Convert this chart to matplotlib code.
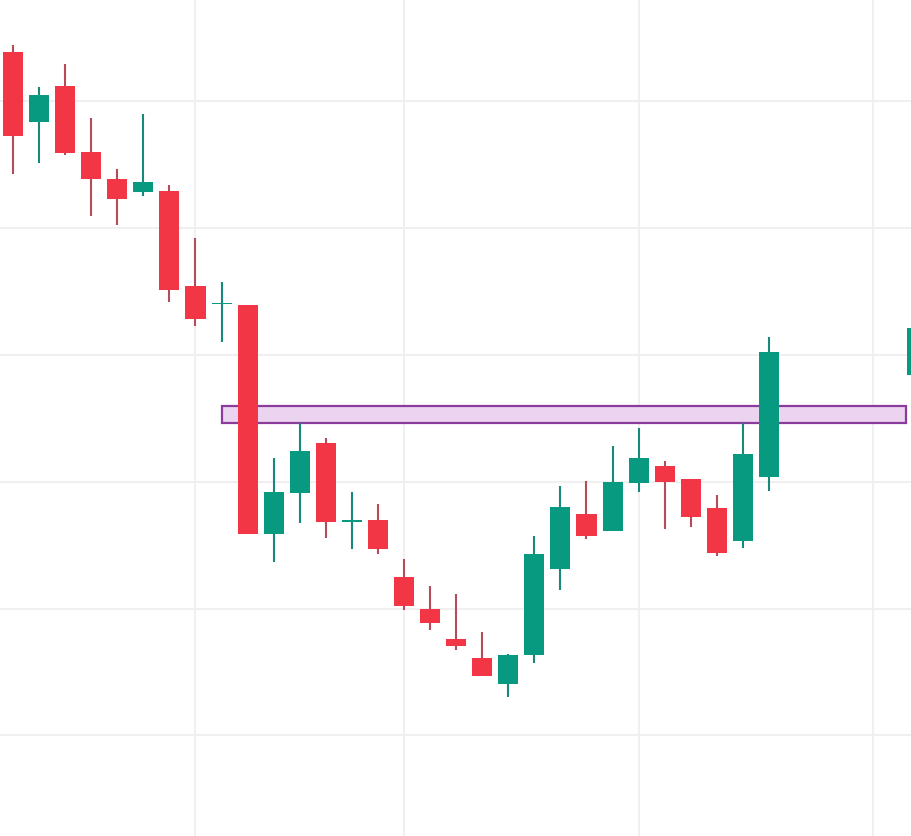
import numpy as np
import matplotlib
matplotlib.use("Agg")
import matplotlib.pyplot as plt
from matplotlib.patches import Rectangle

# candle positions (bar index) and OHLC prices
x = list(range(30)) + [34.7]
opens = [105.388, 104.837, 105.118, 104.598, 104.385, 104.285, 104.291, 103.542,
         103.404, 103.392, 101.590, 101.913, 102.307, 101.682, 101.698, 101.249,
         100.997, 100.760, 100.613, 100.408, 100.637, 101.314, 101.746, 101.614,
         101.992, 102.124, 102.021, 101.793, 101.535, 102.039, 102.837]
highs = [105.441, 105.108, 105.292, 104.866, 104.462, 104.898, 104.336, 103.920,
         103.574, 103.392, 102.187, 102.460, 102.344, 101.919, 101.824, 101.391,
         101.178, 101.115, 100.816, 100.642, 101.575, 101.966, 102.008, 102.281,
         102.423, 102.163, 102.021, 101.895, 102.465, 103.140, 103.209]
lows = [104.427, 104.509, 104.572, 104.096, 104.025, 104.254, 103.418, 103.229,
        103.099, 101.590, 101.370, 101.677, 101.559, 101.472, 101.428, 100.991,
        100.834, 100.676, 100.471, 100.306, 100.574, 101.149, 101.551, 101.614,
        101.921, 101.630, 101.645, 101.417, 101.478, 101.929, 102.837]
closes = [104.727, 105.047, 104.593, 104.388, 104.230, 104.362, 103.513, 103.284,
          103.412, 101.590, 101.919, 102.242, 101.685, 101.698, 101.472, 101.023,
          100.889, 100.708, 100.471, 100.634, 101.433, 101.801, 101.575, 101.998,
          102.187, 102.000, 101.724, 101.441, 102.218, 103.022, 103.209]

# resistance zone
zone_start, zone_end = 8, 34.25
zone_low, zone_high = 102.463, 102.599

# grid positions
time_grid = [7, 15, 24, 33]
price_grid = [100, 101, 102, 103, 104, 105]

up_color = "#089981"
down_color = "#f23645"
up_wick = "#17897a"
down_wick = "#b34c58"

opens = np.array(opens)
closes = np.array(closes)
up = closes >= opens

fig = plt.figure(figsize=(9.11, 8.37), dpi=100)
ax = fig.add_axes([0, 0, 1, 1])

ax.add_patch(Rectangle((zone_start, zone_low), zone_end - zone_start,
                       zone_high - zone_low, facecolor="#ecd4f0",
                       edgecolor="#8a3b9b", linewidth=1.6, zorder=2))

ax.vlines(x, lows, highs, colors=[up_wick if u else down_wick for u in up],
          linewidth=1.5, zorder=3)
ax.bar(x, closes - opens, bottom=opens, width=0.77,
       color=[up_color if u else down_color for u in up], zorder=4)

ax.set_xlim(-0.5, 34.45)
ax.set_ylim(99.208, 105.804)
ax.set_xticks(time_grid)
ax.set_yticks(price_grid)
ax.grid(True, color="#f0f0f0", linewidth=1.4, zorder=0)
ax.set_axisbelow(True)
ax.tick_params(length=0, labelbottom=False, labelleft=False)
for s in ax.spines.values():
    s.set_visible(False)

fig.savefig("out.png", dpi=100)
